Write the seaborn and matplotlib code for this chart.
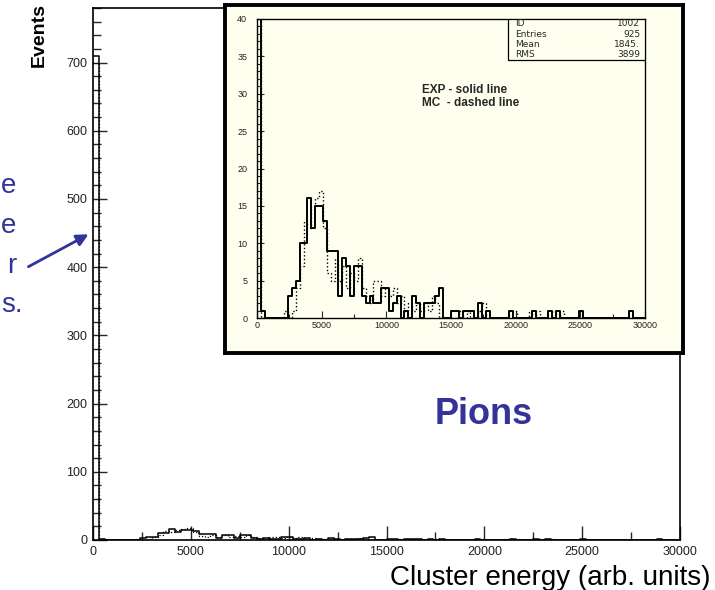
import matplotlib
matplotlib.use("Agg")
import matplotlib.pyplot as plt
from matplotlib.ticker import MultipleLocator
from matplotlib.patches import Rectangle, FancyArrowPatch
import numpy as np
import pandas as pd
import seaborn as sns

# ---- data: cluster energy histograms, 100 bins of width 300 over 0..30000 ----
bin_width = 300
x_max = 30000

exp_counts = [710, 1, 0, 0, 0, 0, 0, 0, 3, 4,
              5, 10, 10, 16, 12, 15, 15, 13, 9, 9,
              9, 3, 8, 7, 3, 7, 7, 3, 2, 3,
              2, 2, 4, 4, 1, 2, 3, 0, 1, 0,
              3, 2, 0, 2, 2, 2, 3, 4, 0, 0,
              1, 1, 0, 1, 1, 1, 0, 2, 0, 1,
              0, 0, 0, 0, 0, 1, 0, 0, 0, 0,
              0, 1, 0, 0, 0, 1, 0, 1, 0, 0,
              0, 0, 0, 1, 0, 0, 0, 0, 0, 0,
              0, 0, 0, 0, 0, 0, 1, 0, 0, 0]

mc_counts = [700, 0, 0, 0, 0, 0, 0, 1, 0, 1,
             4, 7, 13, 12, 15, 16, 17, 12, 6, 5,
             8, 5, 7, 4, 6, 5, 8, 4, 3, 2,
             5, 5, 3, 4, 3, 4, 2, 3, 1, 2,
             1, 2, 1, 2, 1, 3, 2, 0, 0, 0,
             0, 0, 1, 0, 1, 0, 0, 1, 2, 0,
             0, 0, 0, 0, 0, 1, 1, 0, 0, 0,
             1, 0, 1, 0, 0, 0, 1, 0, 1, 0,
             0, 0, 0, 0, 0, 0, 0, 0, 0, 0,
             0, 0, 0, 0, 0, 0, 0, 0, 0, 0]

stat_names = ["ID", "Entries", "Mean", "RMS"]
stat_values = ["1002", "925", "1845.", "3899"]

main_xticks = [0, 5000, 10000, 15000, 20000, 25000, 30000]
main_yticks = [0, 100, 200, 300, 400, 500, 600, 700]
inset_yticks = [0, 5, 10, 15, 20, 25, 30, 35, 40]

edges = np.arange(0, x_max + bin_width, bin_width)
centers = edges[:-1] + bin_width / 2
hist_df = pd.DataFrame({"energy": centers,
                        "exp": np.asarray(exp_counts, dtype=float),
                        "mc": np.asarray(mc_counts, dtype=float)})

sns.set_style("ticks")
plt.rcParams["font.family"] = ["Liberation Sans", "DejaVu Sans"]

W, H = 715, 590
fig = plt.figure(figsize=(W / 100, H / 100), dpi=100)


def fx(px):
    return px / W


def fy(py):
    return 1 - py / H


blue = "#333399"
tick_color = "#222222"


def draw_hists(ax, lw_exp, lw_mc):
    sns.histplot(data=hist_df, x="energy", weights="exp", bins=list(edges),
                 element="step", fill=False, color="black",
                 linewidth=lw_exp, ax=ax)
    sns.histplot(data=hist_df, x="energy", weights="mc", bins=list(edges),
                 element="step", fill=False, color="black",
                 linewidth=lw_mc, linestyle=":", ax=ax)
    ax.set_xlabel("")
    ax.set_ylabel("")


# ---- main panel ----
ax = fig.add_axes([fx(93), fy(540), fx(680 - 93), (540 - 8) / H])
draw_hists(ax, 1.1, 0.9)
ax.set_xlim(0, x_max)
ax.set_ylim(0, 780)
ax.set_xticks(main_xticks)
ax.set_xticklabels([str(v) for v in main_xticks])
ax.set_yticks(main_yticks)
ax.set_yticklabels([str(v) for v in main_yticks])
ax.xaxis.set_minor_locator(MultipleLocator(2500))
ax.yaxis.set_minor_locator(MultipleLocator(20))
ax.tick_params(which="major", direction="in", length=10, width=1,
               labelsize=9, labelcolor=tick_color, pad=4)
ax.tick_params(which="minor", direction="in", length=6, width=1)
for s in ax.spines.values():
    s.set_linewidth(1.2)
    s.set_color("black")

fig.text(fx(710), fy(578), "Cluster energy (arb. units)", ha="right",
         va="center", fontsize=20, color="black")
fig.text(fx(39), fy(35), "Events", rotation=90, ha="center", va="center",
         fontsize=14, fontweight="bold", color="black")
fig.text(fx(484), fy(414), "Pions", ha="center", va="center",
         fontsize=26, fontweight="bold", color=blue)

# caption fragments on the left edge with pointer arrow
for txt, ypx, xr in [("e", 186, 16), ("e", 226, 16), ("r", 266, 16),
                     ("s.", 305, 23)]:
    fig.text(fx(xr), fy(ypx), txt, ha="right", va="center", fontsize=20,
             color=blue)
fig.patches.append(FancyArrowPatch(
    (fx(26), fy(268)), (fx(91), fy(233)), transform=fig.transFigure,
    arrowstyle="-|>,head_length=7,head_width=3.5", color=blue, linewidth=2,
    mutation_scale=1))

# ---- inset panel ----
frame = fig.add_axes([fx(225), fy(353), fx(683 - 225), (353 - 5) / H])
frame.set_facecolor("#fffff0")
frame.set_xticks([])
frame.set_yticks([])
for s in frame.spines.values():
    s.set_linewidth(2.8)
    s.set_color("black")

ins = fig.add_axes([fx(257), fy(318), fx(645 - 257), (318 - 19) / H])
ins.set_facecolor("#fffff0")
draw_hists(ins, 1.4, 1.0)
ins.set_xlim(0, x_max)
ins.set_ylim(0, 40)
ins.set_xticks(main_xticks)
ins.set_xticklabels([str(v) for v in main_xticks])
ins.set_yticks(inset_yticks)
ins.set_yticklabels([str(v) for v in inset_yticks])
ins.xaxis.set_minor_locator(MultipleLocator(2500))
ins.yaxis.set_minor_locator(MultipleLocator(1))
ins.tick_params(which="major", direction="in", length=5, width=0.8,
                labelsize=6.5, labelcolor=tick_color, pad=2.5)
ins.tick_params(axis="y", which="major", pad=7)
ins.tick_params(which="minor", direction="in", length=3, width=0.8)
for s in ins.spines.values():
    s.set_linewidth(1.0)
    s.set_color("black")

# statistics box
bx0 = (508 - 257) / (645 - 257)
by0 = 1 - (60 - 19) / (318 - 19)
ins.add_patch(Rectangle((bx0, by0), 1 - bx0, 1 - by0, transform=ins.transAxes,
                        facecolor="#fffff0", edgecolor="black", linewidth=0.9,
                        zorder=5))
for i, (name, val) in enumerate(zip(stat_names, stat_values)):
    ypx = 24 + i * 10.3
    yy = 1 - (ypx - 19) / (318 - 19)
    ins.text((515 - 257) / 388, yy, name, transform=ins.transAxes,
             fontsize=6.5, ha="left", va="center", zorder=6,
             family="DejaVu Sans")
    ins.text((640 - 257) / 388, yy, val, transform=ins.transAxes,
             fontsize=6.5, ha="right", va="center", zorder=6,
             family="DejaVu Sans")

ins.text((422 - 257) / 388, 1 - (90 - 19) / 299, "EXP - solid line",
         transform=ins.transAxes, fontsize=8.5, fontweight="bold",
         ha="left", va="center")
ins.text((422 - 257) / 388, 1 - (103 - 19) / 299, "MC  - dashed line",
         transform=ins.transAxes, fontsize=8.5, fontweight="bold",
         ha="left", va="center")

fig.savefig("out.png", dpi=100)
